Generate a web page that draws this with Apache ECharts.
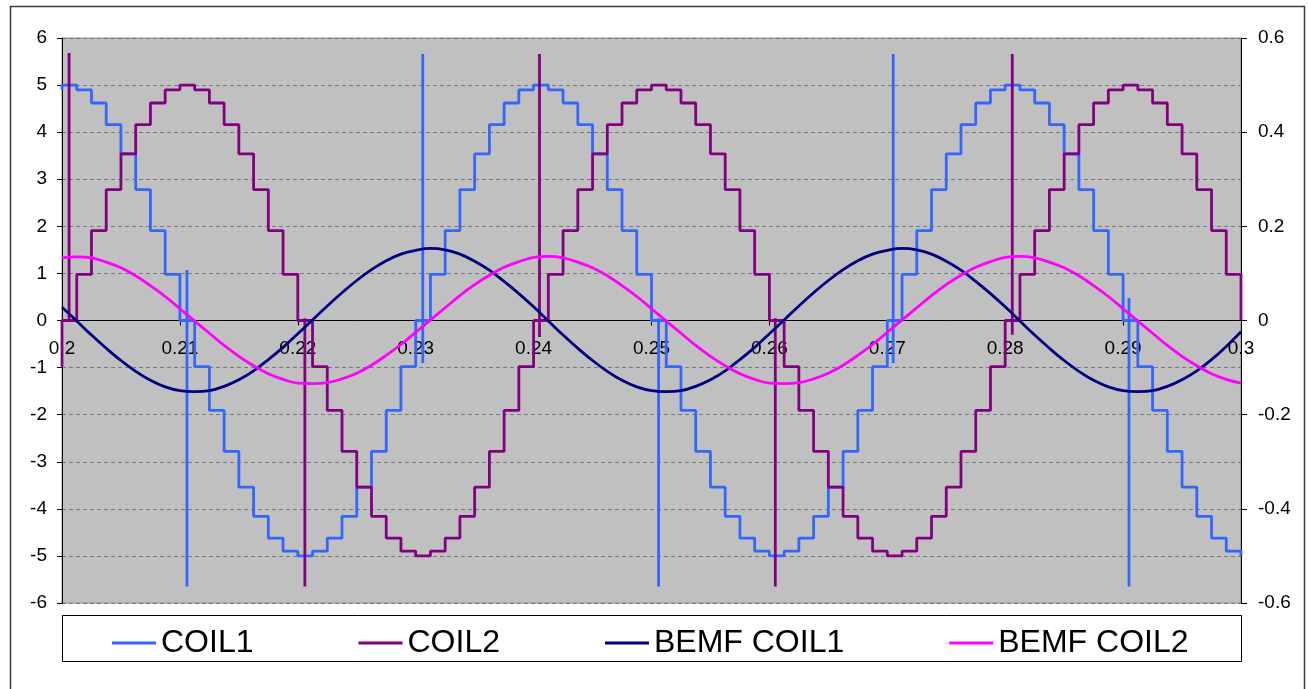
<!DOCTYPE html>
<html>
<head>
<meta charset="utf-8">
<script src="https://cdn.jsdelivr.net/npm/echarts@6/dist/echarts.min.js"></script>
<style>
  html, body { margin: 0; padding: 0; background: #fff; }
  #chart { width: 1308px; height: 689px; }
</style>
</head>
<body>
<div id="chart"></div>
<script>
// ---------- data ----------
const seriesNames = ['COIL1', 'COIL2', 'BEMF COIL1', 'BEMF COIL2'];

// step currents: one level per 0.00125 s step, starting at t = 0.2 (last entry is the value at 0.3)
const stepStart = 0.2;
const stepLength = 0.00125;

const coil1Lead = 4.9;   // value just before the first step
const coil1Levels = [
  5, 4.9, 4.62, 4.16, 3.54, 2.78, 1.91, 0.98, 0, -0.98, -1.91, -2.78, -3.54, -4.16, -4.62, -4.9,
  -5, -4.9, -4.62, -4.16, -3.54, -2.78, -1.91, -0.98, 0, 0.98, 1.91, 2.78, 3.54, 4.16, 4.62, 4.9,
  5, 4.9, 4.62, 4.16, 3.54, 2.78, 1.91, 0.98, 0, -0.98, -1.91, -2.78, -3.54, -4.16, -4.62, -4.9,
  -5, -4.9, -4.62, -4.16, -3.54, -2.78, -1.91, -0.98, 0, 0.98, 1.91, 2.78, 3.54, 4.16, 4.62, 4.9,
  5, 4.9, 4.62, 4.16, 3.54, 2.78, 1.91, 0.98, 0, -0.98, -1.91, -2.78, -3.54, -4.16, -4.62, -4.9,
  -5
];
const coil1SpikeT  = [0.2106, 0.2306, 0.2506, 0.2705, 0.2905];
const coil1SpikeHi = [1.07, 5.66, 0.05, 5.66, 0.48];
const coil1SpikeLo = [-5.65, -0.9, -5.65, -0.9, -5.65];

const coil2Lead = -0.98;
const coil2Levels = [
  0, 0.98, 1.91, 2.78, 3.54, 4.16, 4.62, 4.9, 5, 4.9, 4.62, 4.16, 3.54, 2.78, 1.91, 0.98,
  0, -0.98, -1.91, -2.78, -3.54, -4.16, -4.62, -4.9, -5, -4.9, -4.62, -4.16, -3.54, -2.78, -1.91, -0.98,
  0, 0.98, 1.91, 2.78, 3.54, 4.16, 4.62, 4.9, 5, 4.9, 4.62, 4.16, 3.54, 2.78, 1.91, 0.98,
  0, -0.98, -1.91, -2.78, -3.54, -4.16, -4.62, -4.9, -5, -4.9, -4.62, -4.16, -3.54, -2.78, -1.91, -0.98,
  0, 0.98, 1.91, 2.78, 3.54, 4.16, 4.62, 4.9, 5, 4.9, 4.62, 4.16, 3.54, 2.78, 1.91, 0.98,
  0
];
const coil2SpikeT  = [0.2006, 0.2206, 0.2405, 0.2605, 0.2806];
const coil2SpikeHi = [5.68, 0.05, 5.66, 0.05, 5.66];
const coil2SpikeLo = [0, -5.65, -0.35, -5.65, -0.3];

// back-EMF (secondary axis), sampled every 0.00125 s from 0.2 to 0.3
const bemfStart = 0.2;
const bemfStep = 0.00125;
const bemf1 = [
  0.028, -0.001, -0.031, -0.059, -0.085, -0.108, -0.127, -0.141,
  -0.149, -0.151, -0.149, -0.140, -0.126, -0.107, -0.083, -0.057,
  -0.028, 0.001, 0.031, 0.059, 0.085, 0.108, 0.127, 0.141,
  0.149, 0.153, 0.150, 0.141, 0.126, 0.107, 0.083, 0.057,
  0.029, -0.001, -0.031, -0.059, -0.085, -0.108, -0.127, -0.141,
  -0.149, -0.151, -0.149, -0.140, -0.126, -0.107, -0.083, -0.057,
  -0.028, 0.001, 0.031, 0.059, 0.085, 0.108, 0.127, 0.141,
  0.149, 0.153, 0.150, 0.141, 0.126, 0.107, 0.083, 0.057,
  0.029, -0.001, -0.031, -0.059, -0.085, -0.108, -0.127, -0.141,
  -0.149, -0.151, -0.149, -0.140, -0.126, -0.107, -0.083, -0.055,
  -0.024
];
const bemf2 = [
  0.133, 0.135, 0.133, 0.124, 0.112, 0.095, 0.074, 0.051,
  0.025, -0.001, -0.027, -0.053, -0.076, -0.096, -0.113, -0.125,
  -0.133, -0.134, -0.132, -0.124, -0.112, -0.095, -0.074, -0.051,
  -0.025, 0.001, 0.027, 0.053, 0.076, 0.096, 0.113, 0.125,
  0.134, 0.136, 0.133, 0.124, 0.112, 0.095, 0.074, 0.051,
  0.025, -0.001, -0.027, -0.053, -0.076, -0.096, -0.113, -0.125,
  -0.133, -0.134, -0.132, -0.124, -0.112, -0.095, -0.074, -0.051,
  -0.025, 0.001, 0.027, 0.053, 0.076, 0.096, 0.113, 0.125,
  0.134, 0.136, 0.133, 0.124, 0.112, 0.095, 0.074, 0.051,
  0.025, -0.001, -0.027, -0.053, -0.076, -0.096, -0.113, -0.125,
  -0.133
];

// axis ticks
const xTicks = { min: 0.2, max: 0.3, interval: 0.01 };
const yLeftTicks = { min: -6, max: 6, interval: 1 };
const yRightTicks = { min: -0.6, max: 0.6, interval: 0.2 };

// ---------- build series data ----------
function buildStep(levels, lead, spikeT, spikeHi, spikeLo) {
  const pts = [[stepStart, lead]];
  for (let k = 0; k < levels.length; k++) {
    const t = +(stepStart + k * stepLength).toFixed(6);
    const tn = t + stepLength;
    pts.push([t, levels[k]]);
    for (let s = 0; s < spikeT.length; s++) {
      if (spikeT[s] > t && spikeT[s] < tn) {
        pts.push([spikeT[s], spikeHi[s]]);
        pts.push([spikeT[s], spikeLo[s]]);
        pts.push([spikeT[s], levels[k]]);
      }
    }
  }
  return pts;
}
function buildCurve(vals) {
  return vals.map((v, i) => [+(bemfStart + i * bemfStep).toFixed(6), v]);
}

const FONT = "'Liberation Sans', Arial, sans-serif";
const colors = ['#3366FF', '#800080', '#000080', '#FF00FF'];

const GRID = { left: 62, right: 67, top: 38, bottom: 86 };
const gridHeight = 689 - GRID.top - GRID.bottom;
// the x axis crosses the left value axis at 0, which is the middle of the symmetric -6..6 range
const xAxisOffset = -gridHeight * (0 - yLeftTicks.min) / (yLeftTicks.max - yLeftTicks.min);

const chart = echarts.init(document.getElementById('chart'), null, { renderer: 'canvas' });
chart.setOption({
  animation: false,
  backgroundColor: '#ffffff',
  textStyle: { fontFamily: FONT },
  grid: Object.assign({
    show: true, backgroundColor: '#c0c0c0', borderColor: '#8c8c8c', borderWidth: 1
  }, GRID),
  graphic: [
    { type: 'rect', z: 100, silent: true,
      shape: { x: 10.5, y: 6.5, width: 1294, height: 700 },
      style: { fill: null, stroke: '#3a3a3a', lineWidth: 1.5 } },
    { type: 'rect', z: 100, silent: true,
      shape: { x: 62.5, y: 615.5, width: 1179, height: 46 },
      style: { fill: null, stroke: '#000', lineWidth: 1 } }
  ],
  legend: {
    left: 107, top: 622,
    itemWidth: 44, itemHeight: 3, itemGap: 105,
    icon: 'rect',
    selectedMode: false,
    textStyle: { fontSize: 32, color: '#000', fontFamily: FONT },
    data: seriesNames
  },
  xAxis: {
    type: 'value', min: xTicks.min, max: xTicks.max, interval: xTicks.interval,
    position: 'bottom', offset: xAxisOffset,
    axisLine: { show: true, onZero: false, lineStyle: { color: '#000', width: 1 } },
    axisTick: { show: true, length: 5, lineStyle: { color: '#000' } },
    axisLabel: { fontSize: 19, color: '#000', margin: 19, fontFamily: FONT,
      formatter: v => String(+v.toFixed(2)) },
    splitLine: { show: false }
  },
  yAxis: [
    {
      type: 'value', min: yLeftTicks.min, max: yLeftTicks.max, interval: yLeftTicks.interval,
      axisLine: { show: true, onZero: false, lineStyle: { color: '#000', width: 1 } },
      axisTick: { show: true, length: 5, lineStyle: { color: '#000' } },
      axisLabel: { fontSize: 19, color: '#000', margin: 15, fontFamily: FONT },
      splitLine: { show: true, lineStyle: { color: '#7a7a7a', type: [4, 3], width: 1 } }
    },
    {
      type: 'value', position: 'right',
      min: yRightTicks.min, max: yRightTicks.max, interval: yRightTicks.interval,
      axisLine: { show: true, onZero: false, lineStyle: { color: '#000', width: 1 } },
      axisTick: { show: true, length: 6, lineStyle: { color: '#000' } },
      axisLabel: { fontSize: 19, color: '#000', margin: 17, fontFamily: FONT,
        formatter: v => String(+v.toFixed(1)) },
      splitLine: { show: false }
    }
  ],
  series: [
    { name: seriesNames[0], type: 'line', yAxisIndex: 0, step: 'end', symbol: 'none', showSymbol: false,
      color: colors[0], lineStyle: { color: colors[0], width: 2.8 },
      data: buildStep(coil1Levels, coil1Lead, coil1SpikeT, coil1SpikeHi, coil1SpikeLo), z: 2 },
    { name: seriesNames[1], type: 'line', yAxisIndex: 0, step: 'end', symbol: 'none', showSymbol: false,
      color: colors[1], lineStyle: { color: colors[1], width: 2.8 },
      data: buildStep(coil2Levels, coil2Lead, coil2SpikeT, coil2SpikeHi, coil2SpikeLo), z: 3 },
    { name: seriesNames[2], type: 'line', yAxisIndex: 1, smooth: 0.4, symbol: 'none', showSymbol: false,
      color: colors[2], lineStyle: { color: colors[2], width: 2.8 },
      data: buildCurve(bemf1), z: 4 },
    { name: seriesNames[3], type: 'line', yAxisIndex: 1, smooth: 0.4, symbol: 'none', showSymbol: false,
      color: colors[3], lineStyle: { color: colors[3], width: 2.8 },
      data: buildCurve(bemf2), z: 5 }
  ]
});
</script>
</body>
</html>
